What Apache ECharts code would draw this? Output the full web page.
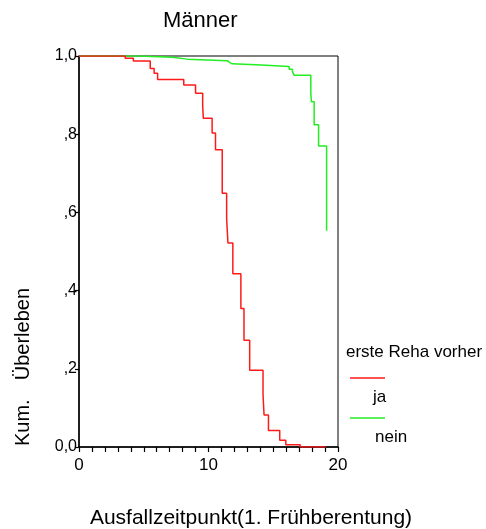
<!DOCTYPE html>
<html>
<head>
<meta charset="utf-8">
<script src="https://cdn.jsdelivr.net/npm/echarts@6/dist/echarts.min.js"></script>
<style>html,body{margin:0;padding:0;background:#fff;}#c{width:486px;height:529px;}</style>
</head>
<body>
<div id="c"></div>
<script>
// Kaplan-Meier steps: [time, survival after event]
const jaTimes = [0, 3.57, 4.2, 5.5, 5.8, 6.07, 8.09, 9.0, 9.55, 9.6, 10.28, 10.54, 11.06, 11.40, 11.50, 11.88, 12.5, 12.74, 13.18, 14.21, 14.29, 14.63, 15.5, 15.97, 17.08, 19.07];
const jaSurv  = [1, 0.994, 0.987, 0.968, 0.956, 0.940, 0.926, 0.905, 0.873, 0.841, 0.803, 0.760, 0.649, 0.585, 0.522, 0.443, 0.354, 0.273, 0.196, 0.134, 0.082, 0.042, 0.017, 0.006, 0.0, 0.0];
const neinTimes = [0, 4.6, 7.2, 8.35, 11.45, 11.65, 11.84, 14.08, 16.23, 16.48, 16.61, 17.9, 17.95, 18.16, 18.5, 19.12];
const neinSurv  = [1, 0.997, 0.992, 0.988, 0.983, 0.980, 0.977, 0.973, 0.966, 0.960, 0.951, 0.905, 0.883, 0.824, 0.770, 0.553];
const xTicks = [0, 10, 20];
const yTickLabels = {0: '0,0', 0.2: ',2', 0.4: ',4', 0.6: ',6', 0.8: ',8', 1: '1,0'};
const groupNames = ['ja', 'nein'];
const legendTitle = 'erste Reha vorher';
const titleText = 'Männer';
const xName = 'Ausfallzeitpunkt(1. Frühberentung)';
const yNameParts = ['Kum.', 'Überleben'];

const FONT = 'Liberation Sans, Arial, Helvetica, sans-serif';
const red = '#ff1a1a', green = '#22ee22';

const chart = echarts.init(document.getElementById('c'), null, {renderer: 'canvas'});
chart.setOption({
  animation: false,
  backgroundColor: '#fff',
  grid: {left: 79, right: 148, top: 56, bottom: 82, show: true, borderColor: '#000', borderWidth: 1, backgroundColor: 'transparent'},
  xAxis: {
    type: 'value', min: 0, max: 20, interval: 10,
    axisLine: {show: true, onZero: false, lineStyle: {color: '#000', width: 1.5}},
    axisTick: {show: true, inside: false, length: 5, lineStyle: {color: '#000', width: 1.2}},
    minorTick: {show: true, splitNumber: 10, length: 5, lineStyle: {color: '#000', width: 1.2}},
    splitLine: {show: false},
    axisLabel: {color: '#000', fontFamily: FONT, fontSize: 17, margin: 10,
      formatter: v => xTicks.includes(v) ? String(v) : ''}
  },
  yAxis: {
    type: 'value', min: 0, max: 1, interval: 0.2,
    axisLine: {show: true, onZero: false, lineStyle: {color: '#000', width: 1.5}},
    axisTick: {show: true, inside: false, length: 4, lineStyle: {color: '#000', width: 1.2}},
    splitLine: {show: false},
    axisLabel: {color: '#000', fontFamily: FONT, fontSize: 16, margin: 2,
      formatter: v => yTickLabels[Math.round(v * 10) / 10] || ''}
  },
  series: [
    {name: groupNames[0], type: 'line', step: 'end', symbol: 'none',
      lineStyle: {color: red, width: 1.5}, data: jaTimes.map((t, i) => [t, jaSurv[i]]), z: 3},
    {name: groupNames[1], type: 'line', step: 'end', symbol: 'none',
      lineStyle: {color: green, width: 1.5}, data: neinTimes.map((t, i) => [t, neinSurv[i]]), z: 2}
  ],
  graphic: [
    {type: 'text', left: 163, top: 10, style: {text: titleText, font: '22px ' + FONT, fill: '#000'}},
    {type: 'text', x: 23, y: 446, rotation: Math.PI / 2, style: {text: yNameParts[0], font: '20px ' + FONT, fill: '#000', textAlign: 'left', textVerticalAlign: 'middle'}},
    {type: 'text', x: 23, y: 288, rotation: Math.PI / 2, style: {text: yNameParts[1], font: '20px ' + FONT, fill: '#000', textAlign: 'right', textVerticalAlign: 'middle'}},
    {type: 'text', x: 251, y: 518, style: {text: xName, font: '21px ' + FONT, fill: '#000', textAlign: 'center', textVerticalAlign: 'middle'}},
    {type: 'text', left: 346, top: 344, style: {text: legendTitle, font: '17px ' + FONT, fill: '#000'}},
    {type: 'line', shape: {x1: 350, y1: 378, x2: 385, y2: 378}, style: {stroke: red, lineWidth: 1.5}},
    {type: 'text', left: 373, top: 389, style: {text: groupNames[0], font: '17px ' + FONT, fill: '#000'}},
    {type: 'line', shape: {x1: 350, y1: 418, x2: 385, y2: 418}, style: {stroke: green, lineWidth: 1.5}},
    {type: 'text', left: 375, top: 429, style: {text: groupNames[1], font: '17px ' + FONT, fill: '#000'}}
  ]
});
</script>
</body>
</html>
